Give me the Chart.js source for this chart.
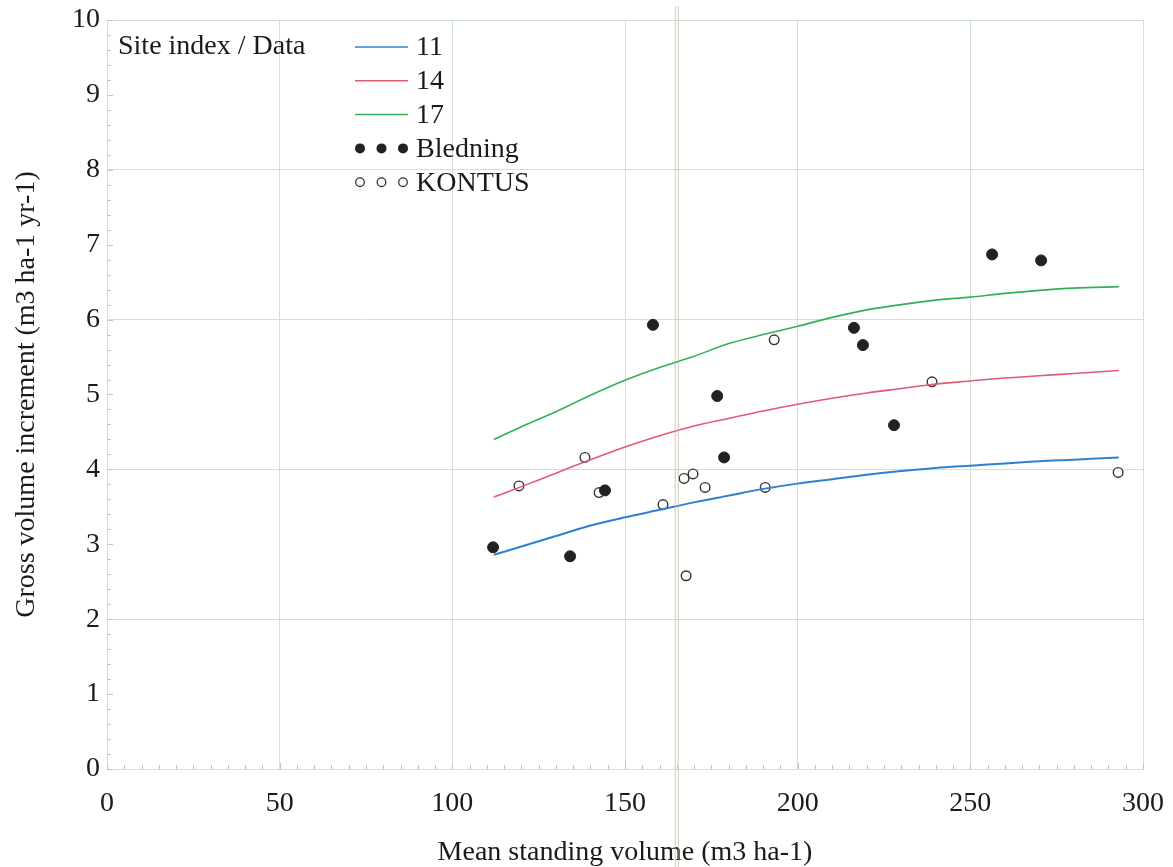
<!DOCTYPE html>
<html>
<head>
<meta charset="utf-8">
<script src="https://cdn.jsdelivr.net/npm/chart.js@4.4.1/dist/chart.umd.min.js"></script>
<style>
  html, body { margin: 0; padding: 0; background: #fff; }
  #wrap { width: 1173px; height: 867px; }
</style>
</head>
<body>
<div id="wrap"><canvas id="growthChart"></canvas></div>
<script>
// curve x positions (m3 ha-1)
const curveX = [112, 120, 130, 140, 150, 160, 170, 180, 190, 200, 210, 220, 230, 240, 250, 260, 270, 280, 293];
const site11 = [2.86, 2.97, 3.11, 3.25, 3.36, 3.46, 3.56, 3.65, 3.74, 3.81, 3.87, 3.93, 3.98, 4.02, 4.05, 4.08, 4.11, 4.13, 4.16];
const site14 = [3.63, 3.77, 3.95, 4.13, 4.30, 4.45, 4.58, 4.68, 4.78, 4.87, 4.95, 5.02, 5.08, 5.14, 5.18, 5.22, 5.25, 5.28, 5.32];
const site17 = [4.40, 4.57, 4.77, 4.99, 5.19, 5.36, 5.51, 5.68, 5.80, 5.91, 6.03, 6.13, 6.20, 6.26, 6.30, 6.35, 6.39, 6.42, 6.44];

// observed plots
const bledningX = [111.8, 134.1, 144.2, 158.1, 176.7, 178.7, 216.3, 218.9, 227.9, 256.3, 270.5];
const bledningY = [2.96, 2.84, 3.72, 5.93, 4.98, 4.16, 5.89, 5.66, 4.59, 6.87, 6.79];
const kontusX = [119.3, 138.4, 142.5, 161.0, 167.1, 169.7, 167.7, 173.2, 190.6, 193.2, 238.9, 292.8];
const kontusY = [3.78, 4.16, 3.69, 3.53, 3.88, 3.94, 2.58, 3.76, 3.76, 5.73, 5.17, 3.96];

const xTicks = [0, 50, 100, 150, 200, 250, 300];
const yTicks = [0, 1, 2, 3, 4, 5, 6, 7, 8, 9, 10];
const legendTitle = 'Site index / Data';
const legendLabels = ['11', '14', '17', 'Bledning', 'KONTUS'];
const markerX = 165; // scanner streak position

const serif = '"Liberation Serif", "DejaVu Serif", serif';
const gridColor = '#d3e0d6';
const textColor = '#1a1a1a';
const colors = { s11: '#2f80d0', s14: '#e25a72', s17: '#33b056', dot: '#222222' };

const pairs = (xs, ys) => xs.map((x, i) => ({ x: x, y: ys[i] }));

// minor ticks, the streak and the legend box
const extras = {
    id: 'extras',
    beforeDatasetsDraw(chart) {
        const { ctx, chartArea: a, scales: { x, y } } = chart;
        ctx.save();
        ctx.strokeStyle = '#b9c8bd';
        ctx.lineWidth = 1;
        ctx.beginPath();
        for (let v = 0; v <= 300; v += 5) {
            const px = Math.round(x.getPixelForValue(v)) + 0.5;
            const len = v % 50 === 0 ? 6 : 4;
            ctx.moveTo(px, a.bottom);
            ctx.lineTo(px, a.bottom - len);
        }
        for (let v = 0; v <= 10.001; v += 0.2) {
            const py = Math.round(y.getPixelForValue(v)) + 0.5;
            const len = Math.abs(v - Math.round(v)) < 0.01 ? 6 : 4;
            ctx.moveTo(a.left, py);
            ctx.lineTo(a.left + len, py);
        }
        ctx.stroke();
        ctx.restore();
    },
    afterDraw(chart) {
        const { ctx, chartArea: a, scales: { x } } = chart;
        ctx.save();
        // pale double streak from the scan
        const sx = x.getPixelForValue(markerX);
        ctx.strokeStyle = 'rgba(190,175,140,0.55)';
        ctx.lineWidth = 1.2;
        ctx.beginPath();
        ctx.moveTo(sx - 1.5, 6); ctx.lineTo(sx - 1.5, chart.height);
        ctx.moveTo(sx + 1.5, 6); ctx.lineTo(sx + 1.5, chart.height);
        ctx.stroke();

        // legend
        ctx.fillStyle = textColor;
        ctx.font = '28px ' + serif;
        ctx.textBaseline = 'middle';
        ctx.textAlign = 'left';
        ctx.fillText(legendTitle, a.left + 11, 47);
        const lineColors = [colors.s11, colors.s14, colors.s17];
        const x0 = 355, x1 = 408, tx = 416;
        legendLabels.forEach((lbl, i) => {
            const ly = 47 + i * 33.8;
            if (i < 3) {
                ctx.strokeStyle = lineColors[i];
                ctx.lineWidth = 1.5;
                ctx.beginPath();
                ctx.moveTo(x0, ly); ctx.lineTo(x1, ly);
                ctx.stroke();
            } else {
                for (let k = 0; k < 3; k++) {
                    ctx.beginPath();
                    ctx.arc(x0 + 5 + k * 21.5, ly, i === 3 ? 5 : 4.3, 0, Math.PI * 2);
                    if (i === 3) {
                        ctx.fillStyle = colors.dot;
                        ctx.fill();
                    } else {
                        ctx.strokeStyle = '#333';
                        ctx.lineWidth = 1.3;
                        ctx.stroke();
                    }
                }
            }
            ctx.fillStyle = textColor;
            ctx.fillText(lbl, tx, ly + 1);
        });
        ctx.restore();
    }
};

const ctx = document.getElementById('growthChart').getContext('2d');

new Chart(ctx, {
    type: 'scatter',
    data: {
        datasets: [
            {
                label: legendLabels[0],
                data: pairs(curveX, site11),
                showLine: true,
                borderColor: colors.s11,
                borderWidth: 2,
                pointRadius: 0,
                tension: 0.3
            },
            {
                label: legendLabels[1],
                data: pairs(curveX, site14),
                showLine: true,
                borderColor: colors.s14,
                borderWidth: 1.6,
                pointRadius: 0,
                tension: 0.3
            },
            {
                label: legendLabels[2],
                data: pairs(curveX, site17),
                showLine: true,
                borderColor: colors.s17,
                borderWidth: 1.6,
                pointRadius: 0,
                tension: 0.3
            },
            {
                label: legendLabels[3],
                data: pairs(bledningX, bledningY),
                pointRadius: 5.5,
                pointBackgroundColor: colors.dot,
                pointBorderColor: colors.dot,
                pointBorderWidth: 1
            },
            {
                label: legendLabels[4],
                data: pairs(kontusX, kontusY),
                pointRadius: 4.8,
                pointBackgroundColor: '#fff',
                pointBorderColor: '#333',
                pointBorderWidth: 1.4
            }
        ]
    },
    options: {
        responsive: true,
        maintainAspectRatio: false,
        animation: false,
        layout: { padding: { top: 20, right: 30, left: 0, bottom: 0 } },

        plugins: {
            legend: { display: false },
            tooltip: { enabled: false }
        },

        scales: {
            x: {
                type: 'linear',
                min: 0,
                max: 300,
                afterBuildTicks: s => { s.ticks = xTicks.map(v => ({ value: v })); },
                afterFit: s => {
                    s.height = 98;
                    s.paddingLeft = 0;
                    s.paddingRight = 0;
                },
                grid: {
                    color: gridColor,
                    drawTicks: false
                },
                border: { color: gridColor },
                ticks: {
                    color: textColor,
                    padding: 18,
                    font: { family: serif, size: 28 }
                },
                title: {
                    display: true,
                    text: 'Mean standing volume (m3 ha-1)',
                    color: textColor,
                    padding: { top: 12, bottom: 0 },
                    font: { family: serif, size: 28, lineHeight: 1 }
                }
            },
            y: {
                type: 'linear',
                min: 0,
                max: 10,
                afterBuildTicks: s => { s.ticks = yTicks.map(v => ({ value: v })); },
                afterFit: s => {
                    s.width = 107;
                    s.paddingTop = 0;
                    s.paddingBottom = 0;
                },
                grid: {
                    color: c => (c.tick && c.tick.value % 2 === 0) ? gridColor : 'rgba(0,0,0,0)',
                    drawTicks: false
                },
                border: { color: gridColor },
                ticks: {
                    color: textColor,
                    padding: 7,
                    font: { family: serif, size: 28 }
                },
                title: {
                    display: true,
                    text: 'Gross volume increment (m3 ha-1 yr-1)',
                    color: textColor,
                    padding: { top: 13, bottom: 10 },
                    font: { family: serif, size: 28, lineHeight: 1 }
                }
            }
        }
    },
    plugins: [extras]
});
</script>
</body>
</html>
